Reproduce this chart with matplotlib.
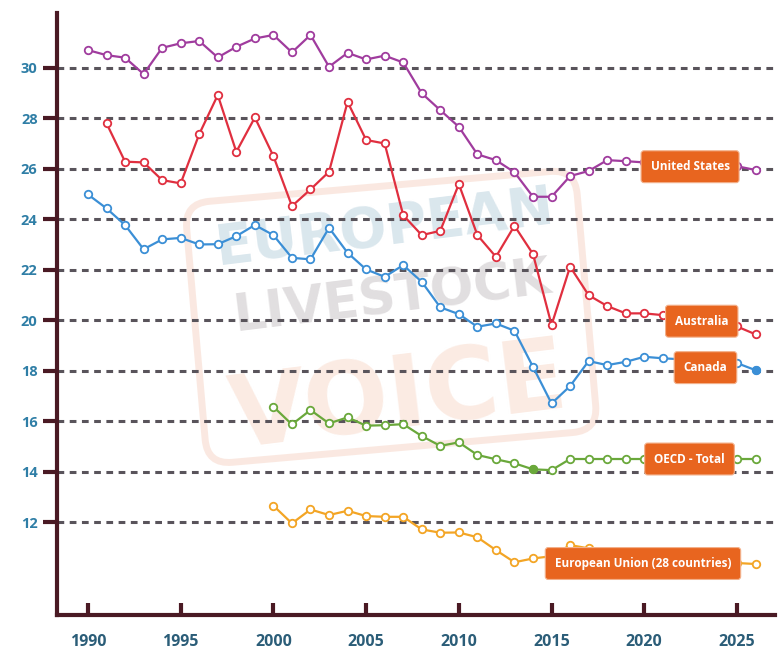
import matplotlib
matplotlib.use("Agg")
import matplotlib.pyplot as plt
from matplotlib.patches import FancyBboxPatch
from matplotlib.transforms import Affine2D, IdentityTransform
import numpy as np

# ---------------- data ----------------
years_us = list(range(1990, 2027))
united_states = [30.70, 30.50, 30.40, 29.75, 30.79, 30.97, 31.06, 30.41, 30.83, 31.16,
                 31.30, 30.61, 31.30, 30.04, 30.59, 30.33, 30.48, 30.21, 28.99, 28.32,
                 27.66, 26.57, 26.34, 25.86, 24.89, 24.89, 25.71, 25.91, 26.34, 26.30,
                 26.25, 26.20, 26.20, 26.15, 26.10, 26.10, 25.95]

years_au = list(range(1991, 2027))
australia = [27.80, 26.28, 26.25, 25.55, 25.42, 27.37, 28.92, 26.67, 28.03, 26.50,
             24.52, 25.18, 25.88, 28.65, 27.14, 27.00, 24.16, 23.37, 23.54, 25.39,
             23.37, 22.51, 23.74, 22.62, 19.81, 22.12, 20.99, 20.56, 20.27, 20.27,
             20.20, 20.10, 20.00, 19.90, 19.75, 19.44]

years_ca = list(range(1990, 2027))
canada = [24.98, 24.43, 23.77, 22.81, 23.20, 23.26, 23.00, 23.01, 23.33, 23.77,
          23.37, 22.47, 22.41, 23.66, 22.67, 22.01, 21.72, 22.18, 21.52, 20.51,
          20.24, 19.74, 19.87, 19.58, 18.15, 16.70, 17.39, 18.38, 18.22, 18.35,
          18.55, 18.49, 18.45, 18.40, 18.35, 18.30, 18.02]

years_oecd = list(range(2000, 2027))
oecd_total = [16.57, 15.87, 16.44, 15.91, 16.15, 15.82, 15.84, 15.88, 15.41, 15.02,
              15.16, 14.66, 14.49, 14.33, 14.09, 14.06, 14.50, 14.50, 14.50, 14.50,
              14.50, 14.50, 14.50, 14.50, 14.50, 14.50, 14.50]

years_eu = list(range(2000, 2027))
eu28 = [12.65, 11.95, 12.50, 12.28, 12.45, 12.24, 12.21, 12.21, 11.71, 11.58,
        11.59, 11.40, 10.89, 10.41, 10.56, 10.65, 11.09, 10.96, 10.70, 10.60,
        10.50, 10.50, 10.45, 10.40, 10.40, 10.38, 10.34]

series_names = ["United States", "Australia", "Canada", "OECD - Total",
                "European Union (28 countries)"]

x_ticks = [1990, 1995, 2000, 2005, 2010, 2015, 2020, 2025]
y_ticks = [12, 14, 16, 18, 20, 22, 24, 26, 28, 30]

# ---------------- styling ----------------
colors = ["#a03c9e", "#e02f3f", "#3b8fd6", "#6aa83b", "#f3a525"]
maroon = "#4a1a24"
label_orange = "#e8651f"

fig = plt.figure(figsize=(7.83, 6.61), dpi=100)
ax = fig.add_axes([57/783, 1-615/661, (775-57)/783, (615-13)/661])
ax.set_zorder(2)

# watermark (figure pixel coordinates, origin bottom-left), drawn beneath the axes
H = 661
rot = Affine2D().rotate_deg_around(390, H-315, 5) + IdentityTransform()
box = FancyBboxPatch((195, H-448), 392, 262,
                     boxstyle="round,pad=0,rounding_size=25",
                     fill=False, edgecolor="#f6d3c4", linewidth=5, alpha=0.5,
                     transform=rot, zorder=0)
fig.add_artist(box)
wm_font = dict(fontweight="heavy", family="DejaVu Sans", ha="center", va="center",
               rotation=7, zorder=0.5)
fig.text(385/783, 1-228/661, "EUROPEAN", fontsize=40, color="#bcd3df", alpha=0.55, **wm_font)
fig.text(392/783, 1-298/661, "LIVESTOCK", fontsize=37, color="#cdc9cb", alpha=0.6, **wm_font)
fig.text(398/783, 1-400/661, "VOICE", fontsize=72, color="#f8d8c8", alpha=0.5, **wm_font)

all_years = [years_us, years_au, years_ca, years_oecd, years_eu]
all_vals = [united_states, australia, canada, oecd_total, eu28]

for yrs, vals, c in zip(all_years, all_vals, colors):
    ax.plot(yrs, vals, color=c, linewidth=1.6, marker="o", markersize=5.4,
            markerfacecolor="white", markeredgecolor=c, markeredgewidth=1.3,
            zorder=3)

# highlighted (filled) points
ax.plot(years_ca[-1], canada[-1], "o", color=colors[2], markersize=5.4, zorder=4)
ax.plot(years_oecd[14], oecd_total[14], "o", color=colors[3], markersize=5.4, zorder=4)

# end labels
label_pos = [(2022.47, 26.08), (2023.1, 19.96), (2023.3, 18.12),
             (2022.44, 14.50), (2019.93, 10.36)]
for name, (lx, ly) in zip(series_names, label_pos):
    ax.text(lx, ly, name, ha="center", va="center", color="white", fontsize=8.5,
            fontweight="bold", family="Open Sans", zorder=6,
            bbox=dict(boxstyle="round,pad=0.8,rounding_size=0.25",
                      facecolor=label_orange, edgecolor="#f3b08a", linewidth=0.8))

ax.set_xlim(1988.33, 2027.05)
ax.set_ylim(8.32, 32.17)
ax.set_xticks(x_ticks)
ax.set_yticks(y_ticks)
ax.set_xticklabels([str(v) for v in x_ticks])
ax.set_yticklabels([str(v) for v in y_ticks])

ax.grid(axis="y", color="#59545b", linewidth=2.2, linestyle=(0, (2.2, 1.8)), zorder=1)
ax.set_axisbelow(True)
ax.patch.set_alpha(0)

for s in ["top", "right"]:
    ax.spines[s].set_visible(False)
for s in ["left", "bottom"]:
    ax.spines[s].set_color(maroon)
    ax.spines[s].set_linewidth(3)

ax.tick_params(axis="y", direction="out", length=10, width=3, color=maroon,
               pad=4, labelsize=10.5, labelcolor="#2f7ea6")
ax.tick_params(axis="x", direction="in", length=8.5, width=3, color=maroon,
               pad=14, labelsize=11.5, labelcolor="#2b5d78")
for lab in ax.get_xticklabels() + ax.get_yticklabels():
    lab.set_family("Open Sans")
    lab.set_fontweight("bold")

fig.savefig("out.png", dpi=100)
